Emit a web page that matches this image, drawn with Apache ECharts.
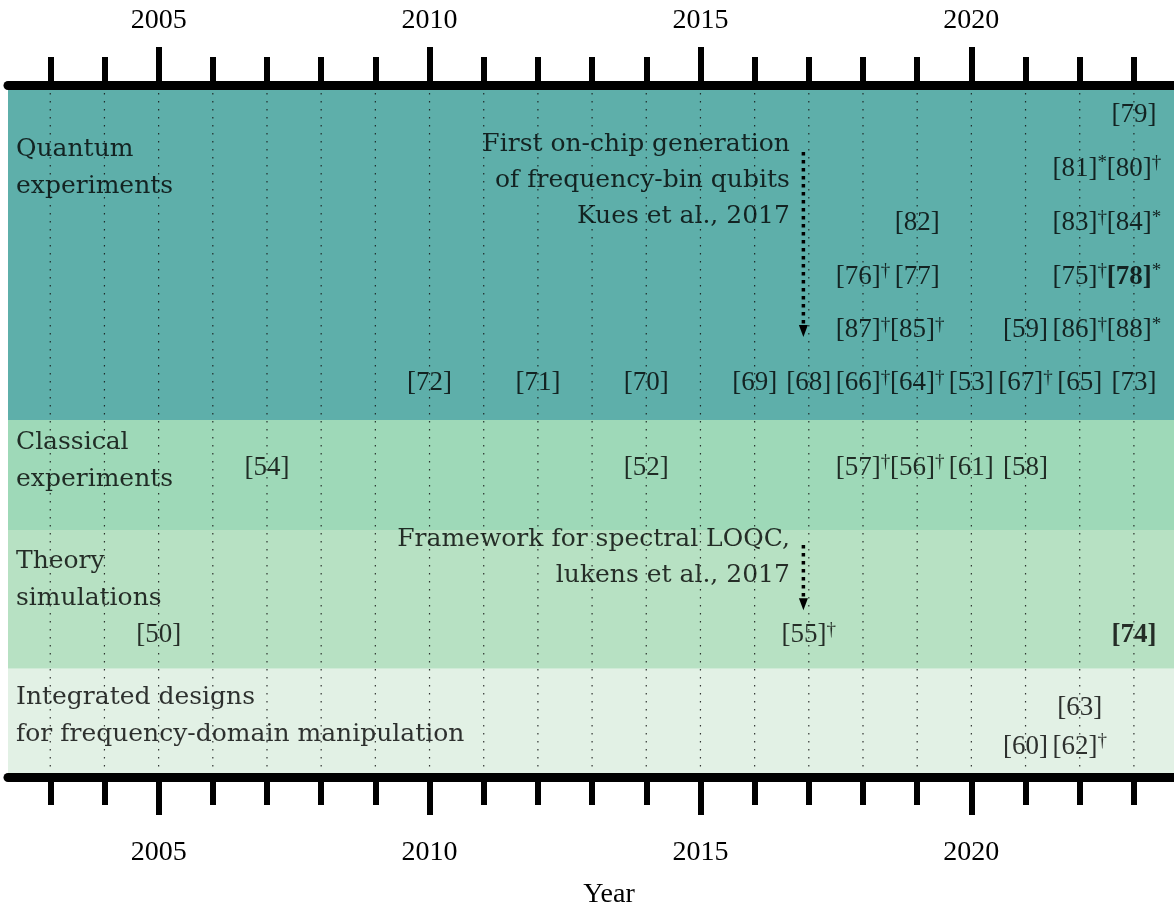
<!DOCTYPE html>
<html><head><meta charset="utf-8">
<script src="https://cdn.jsdelivr.net/npm/echarts@6/dist/echarts.min.js"></script>
<style>html,body{margin:0;padding:0;background:#fff}#c{width:1174px;height:909px}</style>
</head><body><div id="c"></div>
<script>
// ---- axis / tick data ----
const tickYears = [2003,2004,2005,2006,2007,2008,2009,2010,2011,2012,2013,2014,2015,2016,2017,2018,2019,2020,2021,2022,2023];
const majorYears = [2005,2010,2015,2020];
const X_MIN = 2002.22, X_MAX = 2023.74, Y_MAX = 12.6;

// ---- bands (lanes measured from top) ----
const bandNames = ['Quantum\nexperiments','Classical\nexperiments','Theory\nsimulations','Integrated designs\nfor frequency-domain manipulation'];
const bandFrom = [0, 6.097, 8.123, 10.68];
const bandTo   = [6.097, 8.123, 10.68, 12.6];
const bandLabelLanes = [1.45, 6.86, 9.04, 11.55];

// ---- citations ----
const refNums  = [79, 81,80, 82,83,84, 76,77,75,78, 87,85,59,86,88, 72,71,70,69,68,66,64,53,67,65,73, 54,52,57,56,61,58, 50,55,74, 63,60,62];
const refYears = [2023, 2022,2023, 2019,2022,2023, 2018,2019,2022,2023, 2018,2019,2021,2022,2023,
                  2010,2012,2014,2016,2017,2018,2019,2020,2021,2022,2023,
                  2007,2014,2018,2019,2020,2021, 2005,2017,2023, 2022,2021,2022];
const refLanes = [0.48, 1.47,1.47, 2.47,2.47,2.47, 3.46,3.46,3.46,3.46, 4.44,4.44,4.44,4.44,4.44,
                  5.42,5.42,5.42,5.42,5.42,5.42,5.42,5.42,5.42,5.42,5.42,
                  6.98,6.98,6.98,6.98,6.98,6.98, 10.06,10.06,10.06, 11.40,12.12,12.12];
const refMarks = ['', '*','†', '','†','*', '†','','†','*', '†','†','','†','*',
                  '','','','','','†','†','','†','','',
                  '','','†','†','','', '','†','', '','','†'];
const refBold  = [0, 0,0, 0,0,0, 0,0,0,1, 0,0,0,0,0, 0,0,0,0,0,0,0,0,0,0,0, 0,0,0,0,0,0, 0,0,1, 0,0,0];

// ---- annotations ----
const annoTexts = ['First on-chip generation\nof frequency-bin qubits\nKues et al., 2017', 'Framework for spectral LOQC,\nlukens et al., 2017'];
const annoYears = [2016.65, 2016.65];
const annoLanes = [1.69, 8.63];
const arrowYears = [2016.9, 2016.9];
const arrowFrom = [1.16, 8.40];
const arrowTo = [4.57, 9.60];

const bandColors = ['#5EAFAA','#9ED9B8','#B7E1C3','#E2F1E5'];
const TXT = '#000';
const NUMFONT = 'Liberation Serif';
const WORDFONT = 'DejaVu Serif';

const chart = echarts.init(document.getElementById('c'), null, {renderer:'canvas', width:1174, height:909});

function xa(pos, ticks, len, line, labels, extra) {
  return Object.assign({
    type:'value', position:pos, min:X_MIN, max:X_MAX, offset:4, z:10,
    axisLine:{show:line, onZero:false, lineStyle:{color:'#000', width:9}},
    axisTick:{show:true, customValues:ticks, length:len, lineStyle:{color:'#000', width:6}},
    axisLabel: labels ? {show:true, customValues:labels, formatter:(v)=>String(Math.round(v)),
      margin: pos==='top'?50:62, fontFamily:NUMFONT, fontSize:28, color:TXT} : {show:false},
    splitLine:{show:false}
  }, extra || {});
}

const option = {
  animation:false,
  backgroundColor:'#fff',
  grid:{left:8, right:0, top:89, bottom:136, outerBoundsMode:'none', containLabel:false},
  xAxis:[
    xa('bottom', tickYears, 28, true, majorYears, {name:'Year', nameLocation:'middle', nameGap:104,
      nameTextStyle:{fontFamily:NUMFONT, fontSize:28, color:TXT, padding:[0,0,0,36]}}),
    xa('bottom', majorYears, 38, false, null),
    xa('top', tickYears, 28, true, majorYears),
    xa('top', majorYears, 38, false, null)
  ],
  yAxis:[{type:'value', inverse:true, min:0, max:Y_MAX, show:false}],
  series:[
    {
      type:'custom', z:1, silent:true, xAxisIndex:0, yAxisIndex:0,
      data: bandFrom.map((f,i)=>[f, bandTo[i], i]),
      encode:{x:-1, y:[0,1]},
      renderItem:(params, api)=>{
        const i = api.value(2);
        const a = api.coord([X_MIN, api.value(0)]);
        const b = api.coord([X_MAX, api.value(1)]);
        return {type:'rect', shape:{x:a[0], y:a[1], width:b[0]-a[0], height:b[1]-a[1]}, style:{fill:bandColors[i]}};
      }
    },
    {
      type:'custom', z:2, silent:true, xAxisIndex:0, yAxisIndex:0,
      data: tickYears.map(y=>[y, 0]),
      renderItem:(params, api)=>{
        const a = api.coord([api.value(0), 0]);
        const b = api.coord([api.value(0), Y_MAX]);
        return {type:'line', shape:{x1:a[0], y1:a[1]+4, x2:b[0], y2:b[1]}, style:{stroke:'rgba(20,20,20,0.85)', lineWidth:1.2, lineDash:[1.5,6.5]}};
      }
    },
    {
      type:'custom', z:3, silent:true, xAxisIndex:0, yAxisIndex:0,
      data: arrowYears.map((x,i)=>[x, arrowFrom[i], arrowTo[i]]),
      renderItem:(params, api)=>{
        const a = api.coord([api.value(0), api.value(1)]);
        const b = api.coord([api.value(0), api.value(2)]);
        return {type:'group', children:[
          {type:'line', shape:{x1:a[0], y1:a[1], x2:b[0], y2:b[1]-10}, style:{stroke:'#000', lineWidth:3.5, lineDash:[3.5,4.5]}},
          {type:'polygon', shape:{points:[[b[0]-4.5,b[1]-12],[b[0]+4.5,b[1]-12],[b[0],b[1]]]}, style:{fill:'#000'}}
        ]};
      }
    },
    {
      type:'scatter', z:5, silent:true, symbolSize:0, xAxisIndex:0, yAxisIndex:0,
      data: refNums.map((n,i)=>[refYears[i], refLanes[i]]),
      label:{
        show:true, position:'inside',
        formatter:(p)=>{
          const i = p.dataIndex;
          const main = refBold[i] ? '{b|[' + refNums[i] + ']}' : '{n|[' + refNums[i] + ']}';
          return refMarks[i] ? main + '{s|' + refMarks[i] + '}' : main;
        },
        rich:{
          n:{fontFamily:NUMFONT, fontSize:27, lineHeight:30, color:TXT},
          b:{fontFamily:NUMFONT, fontSize:27, lineHeight:30, fontWeight:'bold', color:TXT},
          s:{fontFamily:NUMFONT, fontSize:19, lineHeight:19, verticalAlign:'top', color:TXT}
        }
      }
    },
    {
      type:'scatter', z:5, silent:true, symbolSize:0, xAxisIndex:0, yAxisIndex:0,
      data: bandLabelLanes.map(l=>[X_MIN, l]),
      label:{show:true, position:'right', distance:8, align:'left', formatter:(p)=>bandNames[p.dataIndex],
        fontFamily:WORDFONT, fontSize:25, lineHeight:37, color:TXT}
    },
    {
      type:'scatter', z:5, silent:true, symbolSize:0, xAxisIndex:0, yAxisIndex:0,
      data: annoYears.map((x,i)=>[x, annoLanes[i]]),
      label:{show:true, position:'left', distance:0, align:'right', formatter:(p)=>annoTexts[p.dataIndex],
        fontFamily:WORDFONT, fontSize:25, lineHeight:36, color:TXT}
    }
  ]
};
chart.setOption(option);
</script></body></html>
